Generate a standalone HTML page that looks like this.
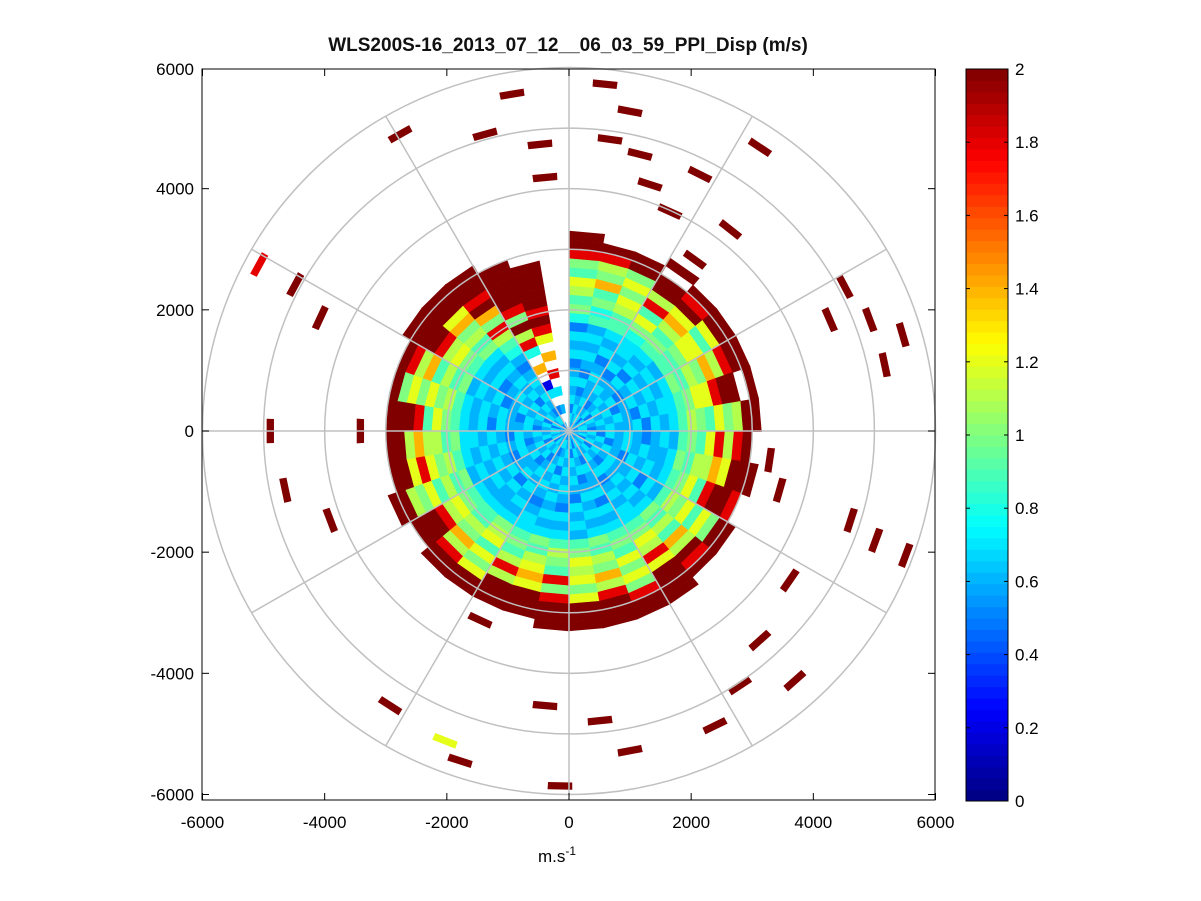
<!DOCTYPE html>
<html><head><meta charset="utf-8"><style>
body{margin:0;background:#fff;}
svg{display:block;font-family:"Liberation Sans",sans-serif;}
</style></head><body>
<svg id="chart" width="1201" height="901" viewBox="0 0 1201 901">
<rect width="1201" height="901" fill="#fff"/>
<text x="568" y="51" font-size="19" font-weight="bold" text-anchor="middle" fill="#111">WLS200S-16_2013_07_12__06_03_59_PPI_Disp (m/s)</text>
<g id="data"></g>
<g id="grid"></g>
<g id="axes"></g>
<g id="cbar"></g>
<text x="538" y="862" font-size="17">m.s<tspan dy="-7" font-size="12">-1</tspan></text>
</svg>
<script>
// ---- data ----
// codes: '0'-'9' => 0.3..1.2 (step 0.1), 'b'=0.2, 'o'=1.4, 'r'=1.8, 'X'=2, '.'=empty
const gateSize = 150; // m
const beamWidth = 10; // deg
const beams = [
"3424343243425768967rXX","3343242343436576o78rX.","2434334324346689797XX.","3432343243445796r8XX.X",
"3243433424346768o9XrX.","3424342343436679969XX.","3343423434347687o8rXX.","2434343243446799rXX.X.",
"3423433424346876978XX.","3342434323436769r8rX..","3434234343347688o9XXX.","3243432434346796rXXr..",
"3424343342436879697XX.","3343243434347686o8XrX.","2434342343446798r9XXXX","3432433424346769797rXX",
"3243423434347687o8rXXX","3424343243436798979XXX","3343434324346876r7rXXX","2434243434347689o9XXX.",
"3423434323446768r8XXX.","3342343434347896979XX.","3434234243346687o8rXX.","3243433434346798rXXX..",
"3424342343437686978XX.","3343243434346879r9XX..","2434342343447688o8XX..","3432433424346796rXXX..",
"3243423434346879797X..","3424343243437686o8rX....","3343434324346798rXXXX.","2434243434347687o9XXX.",
"3423434323568r7oXrXXX.","3.2.4b.o.5r8X7rXXXXX..","..3.4.r.o.9rXrXXXXX...","......................"];
const outX = [-933,-2766,-1375,-393,-475,589,998,671,1162,1326,2144,3126,2643,4517,4926,5466,4272,5172,3290,3453,4615,5024,5515,3617,3126,3699,2799,2390,998,507,-147,-393,-1784,-2030,-2930,-1457,-3912,-4648,-4894,-3421,-4484,-4075,-5074,2062,1653];
const outY = [5563,4901,4901,4189,4735,5728,5281,4818,4570,4073,4238,4685,3328,2384,1838,1589,1838,1093,-480,-977,-1474,-1805,-2053,-2467,-3460,-4123,-4205,-4868,-5281,-4785,-5861,-4536,-5447,-5116,-4536,-3129,-1474,-977,0,0,2417,1871,2748,2831,3626];
const outV = [2,2,2,2,2,2,2,2,2,2,2,2,2,2,2,2,2,2,2,2,2,2,2,2,2,2,2,2,2,2,2,2,2,1.2,2,2,2,2,2,2,2,2,1.8,2,2];
const xTicks = [-6000,-4000,-2000,0,2000,4000,6000];
const yTicks = [-6000,-4000,-2000,0,2000,4000,6000];
const cTicks = [0,0.2,0.4,0.6,0.8,1,1.2,1.4,1.6,1.8,2];

// ---- scales ----
const cx=569, cy=431, sx=733/12000, sy=727/12000;
const X = v=>cx+v*sx, Y = v=>cy-v*sy;
const NS="http://www.w3.org/2000/svg";
function code(ch){if(ch==='X')return 2;if(ch==='r')return 1.8;if(ch==='o')return 1.4;if(ch==='b')return 0.2;return 0.3+(+ch)*0.1;}
function jet(v){v=Math.max(0,Math.min(1,v/2));const c=t=>Math.round(255*Math.max(0,Math.min(1,1.5-Math.abs(4*v-t))));return `rgb(${c(3)},${c(2)},${c(1)})`;}
function el(t,a,p){const e=document.createElementNS(NS,t);for(const k in a)e.setAttribute(k,a[k]);p.appendChild(e);return e;}
function pt(az,r){const a=az*Math.PI/180;return [X(r*Math.sin(a)),Y(r*Math.cos(a))];}
function sector(a0,a1,r0,r1){const p=[pt(a0,r0),pt(a0,r1),pt(a1,r1),pt(a1,r0)];return `M${p[0]}L${p[1]}L${p[2]}L${p[3]}Z`;}
const data=document.getElementById('data');
beams.forEach((s,i)=>{
  for(let g=0;g<s.length;g++){
    const ch=s[g]; if(ch==='.')continue;
    const p=el('path',{d:sector(i*beamWidth,(i+1)*beamWidth+0.3,g*gateSize,(g+1)*gateSize+5),fill:jet(code(ch))},data);
    
    
  }
});
outX.forEach((x,i)=>{
  const r=Math.hypot(x,outY[i]);const az=Math.atan2(x,outY[i])*180/Math.PI;
  const w=200/r*57.3;
  const p=el('path',{d:sector(az-w,az+w,r-60,r+60),fill:jet(outV[i])},data);
  
  
});
// grid
const grid=document.getElementById('grid');
for(let r=1000;r<=6000;r+=1000){
  const c=el('ellipse',{cx:cx,cy:cy,rx:r*sx,ry:r*sy,fill:'none',stroke:'#c0c0c0','stroke-width':1.5},grid);
  
  
}
for(let a=0;a<360;a+=30){
  const [x,y]=pt(a,6000);
  const l=el('line',{x1:cx,y1:cy,x2:x,y2:y,stroke:'#c0c0c0','stroke-width':1.5},grid);
  
  
}
// axes
const axes=document.getElementById('axes');
const box=el('rect',{x:202,y:69,width:733,height:731,fill:'none',stroke:'#000','stroke-width':1},axes);


xTicks.forEach(t=>{
  el('line',{x1:X(t),y1:800,x2:X(t),y2:793,stroke:'#000'},axes);
  el('line',{x1:X(t),y1:69,x2:X(t),y2:76,stroke:'#000'},axes);
  const tx=el('text',{x:X(t),y:828,'font-size':17,'text-anchor':'middle'},axes);
  tx.textContent=t;
  
  
});
yTicks.forEach(t=>{
  const y=Math.min(800,Math.max(69,Y(t)));
  el('line',{x1:202,y1:y,x2:209,y2:y,stroke:'#000'},axes);
  el('line',{x1:935,y1:y,x2:928,y2:y,stroke:'#000'},axes);
  const tx=el('text',{x:194,y:y+6,'font-size':17,'text-anchor':'end'},axes);
  tx.textContent=t;
  
  
});
// colorbar
const cb=document.getElementById('cbar');
const cTop=69,cBot=801,cL=966,cR=1008;
for(let i=0;i<64;i++){
  const y0=cBot-(i+1)*(cBot-cTop)/64;
  const r=el('rect',{x:cL,y:y0,width:cR-cL,height:(cBot-cTop)/64+0.5,fill:jet((i+0.5)/64*2)},cb);
  
  
}
el('rect',{x:cL,y:cTop,width:cR-cL,height:cBot-cTop,fill:'none',stroke:'#000'},cb);
cTicks.forEach(t=>{
  const y=cBot-t/2*(cBot-cTop);
  el('line',{x1:cL,y1:y,x2:cL+4,y2:y,stroke:'#000'},cb);
  el('line',{x1:cR,y1:y,x2:cR-4,y2:y,stroke:'#000'},cb);
  const tx=el('text',{x:1015,y:y+6,'font-size':17},cb);
  tx.textContent=String(t);
  
  
});
</script>
</body></html>
